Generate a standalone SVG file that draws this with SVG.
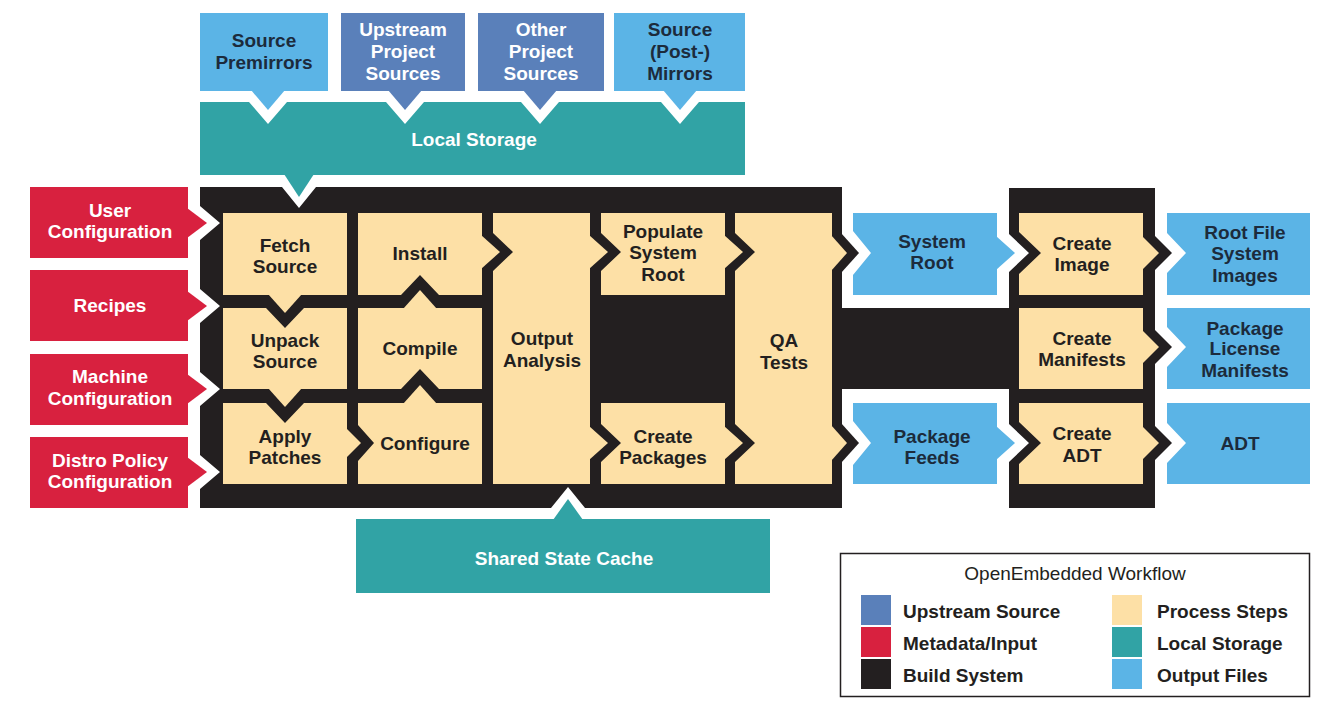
<svg xmlns="http://www.w3.org/2000/svg" width="1324" height="706" viewBox="0 0 1324 706">
<style>
.k{fill:#231f20}
.y{fill:#fde0a6}
.lb{fill:#5bb4e6}
.ub{fill:#5a80ba}
.r{fill:#d8213f}
.t{fill:#31a3a5}
text{font-family:"Liberation Sans",Arial,sans-serif;font-weight:bold;font-size:19px;text-anchor:middle}
.dk{fill:#231f20}
.nv{fill:#1c2b3c}
.wt{fill:#ffffff}
.lg{text-anchor:start;fill:#231f20}
</style>
<rect width="1324" height="706" fill="#ffffff"/>

<g id="build-system">
<polygon class="k" points="200,187 282,187 299,208 316,187 842,187 842,508 585,508 568,487 551,508 200,508 200,489 220,472 200,455 200,406 220,389 200,372 200,323 220,306 200,289 200,240 220,223 200,206"/>
<rect class="k" x="840" y="308" width="171" height="81"/>
<polygon class="k" points="1009,188 1155,188 1155,508 1009,508 1009,462 1029,443 1009,424 1009,272 1029,253 1009,234"/>
</g>

<g id="source-premirrors">
<rect class="lb" x="200" y="13" width="128" height="78"/>
<text class="nv"><tspan x="264" y="47">Source</tspan><tspan x="264" y="69">Premirrors</tspan></text>
</g>
<g id="upstream-project-sources">
<rect class="ub" x="341" y="13" width="124" height="78"/>
<text class="wt"><tspan x="403" y="36">Upstream</tspan><tspan x="403" y="58">Project</tspan><tspan x="403" y="80">Sources</tspan></text>
</g>
<g id="other-project-sources">
<rect class="ub" x="478" y="13" width="126" height="78"/>
<text class="wt"><tspan x="541" y="36">Other</tspan><tspan x="541" y="58">Project</tspan><tspan x="541" y="80">Sources</tspan></text>
</g>
<g id="source-post-mirrors">
<rect class="lb" x="614" y="13" width="131" height="78"/>
<text class="nv"><tspan x="680" y="36">Source</tspan><tspan x="680" y="58">(Post-)</tspan><tspan x="680" y="80">Mirrors</tspan></text>
</g>

<g id="local-storage">
<polygon class="t" points="200,102 249,102 268,124 287,102 386,102 405,124 424,102 521,102 540,124 559,102 661,102 680,124 699,102 745,102 745,175 200,175"/>
<text class="wt" x="474" y="146">Local Storage</text>
</g>

<g id="user-configuration">
<rect class="r" x="30" y="187" width="158" height="71"/>
<text class="wt"><tspan x="110" y="217">User</tspan><tspan x="110" y="238">Configuration</tspan></text>
</g>
<g id="recipes">
<rect class="r" x="30" y="270" width="158" height="71"/>
<text class="wt" x="110" y="312">Recipes</text>
</g>
<g id="machine-configuration">
<rect class="r" x="30" y="354" width="158" height="71"/>
<text class="wt"><tspan x="110" y="383">Machine</tspan><tspan x="110" y="405">Configuration</tspan></text>
</g>
<g id="distro-policy-configuration">
<rect class="r" x="30" y="437" width="158" height="71"/>
<text class="wt"><tspan x="110" y="467">Distro Policy</tspan><tspan x="110" y="488">Configuration</tspan></text>
</g>

<g id="fetch-source">
<rect class="y" x="223" y="213" width="124" height="82"/>
<text class="dk"><tspan x="285" y="252">Fetch</tspan><tspan x="285" y="273">Source</tspan></text>
</g>
<g id="unpack-source">
<polygon class="y" points="223,308 266,308 285,328 304,308 347,308 347,389 223,389"/>
<text class="dk"><tspan x="285" y="347">Unpack</tspan><tspan x="285" y="368">Source</tspan></text>
</g>
<g id="apply-patches">
<polygon class="y" points="223,403 266,403 285,423 304,403 347,403 347,484 223,484"/>
<text class="dk"><tspan x="285" y="443">Apply</tspan><tspan x="285" y="464">Patches</tspan></text>
</g>
<g id="configure">
<polygon class="y" points="358,403 482,403 482,484 358,484 358,461 374,443 358,425"/>
<text class="dk" x="425" y="450">Configure</text>
</g>
<g id="compile">
<polygon class="y" points="358,308 482,308 482,389 439,389 420,369 401,389 358,389"/>
<text class="dk" x="420" y="355">Compile</text>
</g>
<g id="install">
<polygon class="y" points="358,213 482,213 482,295 439,295 420,275 401,295 358,295"/>
<text class="dk" x="420" y="260">Install</text>
</g>
<g id="output-analysis">
<polygon class="y" points="493,213 590,213 590,484 493,484 493,271 513,252 493,233"/>
<text class="dk"><tspan x="542" y="345">Output</tspan><tspan x="542" y="367">Analysis</tspan></text>
</g>
<g id="populate-system-root">
<polygon class="y" points="601,213 725,213 725,295 601,295 601,271 621,252 601,233"/>
<text class="dk"><tspan x="663" y="238">Populate</tspan><tspan x="663" y="259">System</tspan><tspan x="663" y="281">Root</tspan></text>
</g>
<g id="create-packages">
<polygon class="y" points="601,403 725,403 725,484 601,484 601,462 621,443 601,424"/>
<text class="dk"><tspan x="663" y="443">Create</tspan><tspan x="663" y="464">Packages</tspan></text>
</g>
<g id="qa-tests">
<polygon class="y" points="735,213 832,213 832,484 735,484 735,462 755,443 735,424 735,271 755,252 735,233"/>
<text class="dk"><tspan x="784" y="347">QA</tspan><tspan x="784" y="369">Tests</tspan></text>
</g>

<g id="system-root">
<polygon class="lb" points="853,213 997,213 997,295 853,295 853,275 871,253 853,231"/>
<text class="nv"><tspan x="932" y="248">System</tspan><tspan x="932" y="269">Root</tspan></text>
</g>
<g id="package-feeds">
<polygon class="lb" points="853,403 997,403 997,484 853,484 853,465 871,443 853,421"/>
<text class="nv"><tspan x="932" y="443">Package</tspan><tspan x="932" y="464">Feeds</tspan></text>
</g>

<g id="create-image">
<polygon class="y" points="1019,213 1143,213 1143,295 1019,295 1019,274 1041,253 1019,232"/>
<text class="dk"><tspan x="1082" y="250">Create</tspan><tspan x="1082" y="271">Image</tspan></text>
</g>
<g id="create-manifests">
<rect class="y" x="1019" y="308" width="124" height="81"/>
<text class="dk"><tspan x="1082" y="345">Create</tspan><tspan x="1082" y="366">Manifests</tspan></text>
</g>
<g id="create-adt">
<polygon class="y" points="1019,403 1143,403 1143,484 1019,484 1019,464 1041,443 1019,422"/>
<text class="dk"><tspan x="1082" y="440">Create</tspan><tspan x="1082" y="462">ADT</tspan></text>
</g>

<g id="root-file-system-images">
<polygon class="lb" points="1167,213 1310,213 1310,295 1167,295 1167,273 1186,253 1167,233"/>
<text class="nv"><tspan x="1245" y="239">Root File</tspan><tspan x="1245" y="260">System</tspan><tspan x="1245" y="282">Images</tspan></text>
</g>
<g id="package-license-manifests">
<polygon class="lb" points="1167,308 1310,308 1310,389 1167,389 1167,367 1186,347 1167,327"/>
<text class="nv"><tspan x="1245" y="335">Package</tspan><tspan x="1245" y="355">License</tspan><tspan x="1245" y="377">Manifests</tspan></text>
</g>
<g id="adt">
<polygon class="lb" points="1167,403 1310,403 1310,484 1167,484 1167,463 1186,443 1167,423"/>
<text class="nv" x="1240" y="450">ADT</text>
</g>

<g id="shared-state-cache">
<rect class="t" x="356" y="519" width="414" height="74"/>
<text class="wt" x="564" y="565">Shared State Cache</text>
</g>

<g id="connectors">
<!-- frame arrowheads -->
<polygon class="k" points="841,233 859,253 841,273"/>
<polygon class="k" points="841,423 859,443 841,463"/>
<polygon class="k" points="1154,235 1172,253 1154,271"/>
<polygon class="k" points="1154,329 1172,347 1154,365"/>
<polygon class="k" points="1154,425 1172,443 1154,461"/>
<!-- inputs into local storage -->
<polygon class="lb" points="251,90 268,110 285,90"/>
<polygon class="ub" points="388,90 405,110 422,90"/>
<polygon class="ub" points="523,90 540,110 557,90"/>
<polygon class="lb" points="663,90 680,110 697,90"/>
<!-- local storage to fetch -->
<polygon class="t" points="284,174 299,197 314,174"/>
<!-- shared state cache to output analysis -->
<polygon class="t" points="553,520 568,499 583,520"/>
<!-- metadata inputs -->
<polygon class="r" points="187,208 207,223 187,238"/>
<polygon class="r" points="187,291 207,306 187,321"/>
<polygon class="r" points="187,374 207,389 187,404"/>
<polygon class="r" points="187,457 207,472 187,487"/>
<!-- process flow -->
<polygon class="y" points="268,294 285,313 302,294"/>
<polygon class="y" points="268,388 285,407 302,388"/>
<polygon class="y" points="346,428 361,443 346,458"/>
<polygon class="y" points="403,404 420,385 437,404"/>
<polygon class="y" points="403,309 420,290 437,309"/>
<polygon class="y" points="481,235 500,252 481,269"/>
<polygon class="y" points="589,235 608,252 589,269"/>
<polygon class="y" points="589,426 608,443 589,460"/>
<polygon class="y" points="724,235 743,252 724,269"/>
<polygon class="y" points="724,426 743,443 724,460"/>
<polygon class="y" points="831,235 847,253 831,271"/>
<polygon class="y" points="831,425 847,443 831,461"/>
<polygon class="lb" points="996,236 1015,253 996,270"/>
<polygon class="lb" points="996,426 1015,443 996,460"/>
<polygon class="y" points="1142,236 1159,253 1142,270"/>
<polygon class="y" points="1142,330 1159,347 1142,364"/>
<polygon class="y" points="1142,426 1159,443 1142,460"/>
</g>

<g id="legend">
<rect x="840.5" y="553.5" width="469" height="143" fill="#ffffff" stroke="#231f20" stroke-width="1.5"/>
<text x="1075" y="580" style="font-weight:normal" class="dk">OpenEmbedded Workflow</text>
<rect class="ub" x="861" y="595" width="30" height="30"/>
<rect class="r" x="861" y="627" width="30" height="30"/>
<rect class="k" x="861" y="659" width="30" height="30"/>
<rect class="y" x="1112" y="595" width="30" height="30"/>
<rect class="t" x="1112" y="627" width="30" height="30"/>
<rect class="lb" x="1112" y="659" width="30" height="30"/>
<text class="lg" x="903" y="618">Upstream Source</text>
<text class="lg" x="903" y="650">Metadata/Input</text>
<text class="lg" x="903" y="682">Build System</text>
<text class="lg" x="1157" y="618">Process Steps</text>
<text class="lg" x="1157" y="650">Local Storage</text>
<text class="lg" x="1157" y="682">Output Files</text>
</g>
</svg>
